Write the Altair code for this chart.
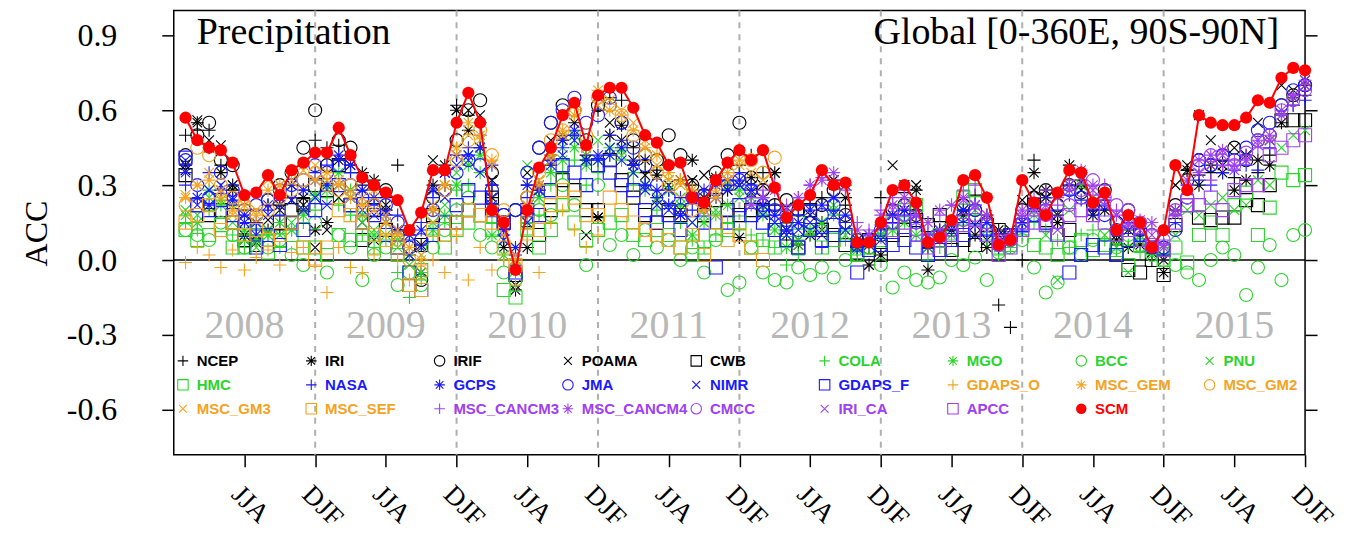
import altair as alt
import pandas as pd

# ---------------- data ----------------
tick_months = list(range(6, 97, 6))
djf_lines = [12, 24, 36, 48, 60, 72, 84]
year_labels = ["2008", "2009", "2010", "2011", "2012", "2013", "2014", "2015"]
year_pos = [6, 18, 30, 42, 54, 66, 78, 90]
y_ticks = [-0.6, -0.3, 0.0, 0.3, 0.6, 0.9]

models = ["NCEP", "IRI", "IRIF", "POAMA", "CWB", "COLA", "MGO", "BCC", "PNU",
          "HMC", "NASA", "GCPS", "JMA", "NIMR", "GDAPS_F", "GDAPS_O", "MSC_GEM", "MSC_GM2",
          "MSC_GM3", "MSC_SEF", "MSC_CANCM3", "MSC_CANCM4", "CMCC", "IRI_CA", "APCC", "SCM"]

BLACK, GREEN, BLUE, ORANGE, PURPLE, RED = "#000000", "#2bd42b", "#1a1aff", "#f5a31f", "#a040f0", "#ff0000"
colors = [BLACK] * 5 + [GREEN] * 5 + [BLUE] * 5 + [ORANGE] * 5 + [PURPLE] * 5 + [RED]

PLUS = "M-1,0L1,0M0,-1L0,1"
STAR = "M-1,0L1,0M0,-1L0,1M-0.72,-0.72L0.72,0.72M-0.72,0.72L0.72,-0.72"
XMARK = "M-0.75,-0.75L0.75,0.75M-0.75,0.75L0.75,-0.75"
shape_cycle = [PLUS, STAR, "circle", XMARK, "square"]
shapes = shape_cycle * 5 + ["circle"]

start = {m: 1 for m in models}
start.update({"MSC_CANCM3": 49, "MSC_CANCM4": 49, "CMCC": 61, "IRI_CA": 61, "APCC": 61})

SCM = [0.57, 0.48, 0.45, 0.44, 0.39, 0.26, 0.27, 0.34, 0.26, 0.36, 0.39, 0.43,
       0.43, 0.53, 0.42, 0.33, 0.30, 0.27, 0.24, 0.12, 0.19, 0.36, 0.36, 0.55,
       0.67, 0.55, 0.20, 0.15, -0.04, 0.20, 0.37, 0.45, 0.58, 0.63, 0.46, 0.66,
       0.69, 0.69, 0.61, 0.50, 0.47, 0.38, 0.39, 0.25, 0.23, 0.32, 0.39, 0.44,
       0.40, 0.44, 0.29, 0.17, 0.22, 0.26, 0.36, 0.30, 0.31, 0.07, 0.07, 0.15,
       0.28, 0.30, 0.23, 0.07, 0.09, 0.16, 0.32, 0.34, 0.25, 0.06, 0.08, 0.32,
       0.23, 0.18, 0.27, 0.36, 0.35, 0.23, 0.27, 0.12, 0.18, 0.15, 0.05, 0.12,
       0.38, 0.28, 0.58, 0.55, 0.54, 0.54, 0.57, 0.64, 0.63, 0.73, 0.77, 0.76]

NCEP = [0.50, 0.52, 0.52, 0.38, 0.30, 0.20, 0.10, 0.22, 0.12, 0.25, 0.20, 0.48,
        0.45, 0.46, 0.35, 0.30, 0.28, 0.25, 0.38, 0.10, 0.06, 0.20, 0.30, 0.62,
        0.58, 0.55, 0.30, 0.05, -0.02, 0.30, 0.28, 0.38, 0.50, 0.55, 0.42, 0.60,
        0.65, 0.64, 0.45, 0.35, 0.36, 0.38, 0.32, 0.30, 0.20, 0.25, 0.30, 0.38,
        0.42, 0.35, 0.22, 0.08, 0.18, 0.22, 0.25, 0.32, 0.22, 0.04, 0.05, 0.25,
        0.22, 0.27, 0.20, 0.05, 0.12, 0.15, 0.20, 0.26, 0.18, -0.18, -0.27, 0.00,
        0.40, 0.25, 0.18, 0.38, 0.30, 0.20, 0.24, 0.06, 0.12, 0.10, 0.00, 0.02,
        0.18, 0.36, 0.34, 0.35, 0.40, 0.33, 0.42, 0.35, 0.42, 0.58, 0.62, 0.66]
IRI = [0.38, 0.55, 0.45, 0.35, 0.28, 0.10, 0.08, 0.12, 0.22, 0.30, 0.25, 0.12,
       0.15, 0.40, 0.38, 0.35, 0.32, 0.20, 0.12, 0.02, -0.05, 0.30, 0.38, 0.60,
       0.52, 0.45, 0.25, 0.05, -0.12, 0.05, 0.30, 0.42, 0.48, 0.50, 0.40, 0.17,
       0.50, 0.54, 0.38, 0.40, 0.34, 0.28, 0.32, 0.40, 0.25, 0.33, 0.28, 0.09,
       0.33, 0.22, 0.35, 0.12, 0.06, 0.10, 0.15, 0.30, 0.25, 0.05, -0.02, 0.02,
       0.18, 0.20, 0.28, -0.04, 0.10, 0.12, 0.18, 0.10, 0.05, 0.12, 0.10, 0.15,
       0.35, 0.28, 0.15, 0.30, 0.32, 0.18, 0.20, 0.08, 0.05, 0.06, 0.03, -0.05,
       0.20, 0.36, 0.30, 0.38, 0.35, 0.28, 0.32, 0.40, 0.38, 0.55, 0.65, 0.70]
IRIF = [0.42, 0.50, 0.55, 0.40, 0.38, 0.15, 0.18, 0.24, 0.30, 0.35, 0.45, 0.60,
        0.38, 0.48, 0.45, 0.30, 0.22, 0.28, 0.10, 0.05, -0.08, 0.25, 0.28, 0.48,
        0.60, 0.64, 0.35, 0.18, 0.20, 0.25, 0.45, 0.55, 0.62, 0.60, 0.48, 0.62,
        0.62, 0.55, 0.48, 0.42, 0.40, 0.50, 0.42, 0.30, 0.26, 0.35, 0.42, 0.55,
        0.33, 0.28, 0.22, 0.24, 0.20, 0.15, 0.22, 0.28, 0.18, 0.08, 0.05, 0.10,
        0.20, 0.22, 0.18, 0.08, 0.10, 0.14, 0.22, 0.20, 0.15, 0.08, 0.10, 0.20,
        0.25, 0.28, 0.22, 0.30, 0.27, 0.22, 0.28, 0.15, 0.20, 0.12, 0.10, 0.05,
        0.22, 0.32, 0.40, 0.38, 0.42, 0.45, 0.40, 0.48, 0.50, 0.62, 0.66, 0.70]
POAMA = [0.36, 0.56, 0.48, 0.46, 0.30, 0.08, 0.07, 0.16, 0.20, 0.24, 0.22, 0.05,
         0.12, 0.25, 0.28, 0.15, 0.08, 0.22, 0.10, 0.12, 0.06, 0.40, 0.35, 0.60,
         0.60, 0.58, 0.32, 0.08, -0.10, 0.35, 0.28, 0.48, 0.50, 0.55, 0.10, 0.17,
         0.55, 0.48, 0.40, 0.34, 0.24, 0.30, 0.20, 0.32, 0.34, 0.32, 0.38, 0.30,
         0.27, 0.30, 0.35, 0.21, 0.08, 0.18, 0.12, 0.32, 0.30, 0.08, -0.02, 0.10,
         0.38, 0.30, 0.30, 0.05, 0.12, 0.12, 0.20, 0.14, 0.08, 0.10, 0.12, 0.24,
         0.28, 0.25, 0.18, 0.38, 0.28, 0.22, 0.25, 0.10, 0.12, 0.14, 0.03, 0.00,
         0.30, 0.38, 0.58, 0.48, 0.38, 0.45, 0.42, 0.55, 0.48, 0.70, 0.68, 0.72]
CWB = [0.34, 0.22, 0.18, 0.20, 0.15, 0.08, 0.06, 0.10, 0.15, 0.20, 0.22, 0.30,
       0.28, 0.38, 0.22, 0.08, 0.20, 0.12, 0.05, -0.10, 0.06, 0.18, 0.10, 0.15,
       0.20, 0.18, 0.25, 0.15, -0.06, 0.16, 0.10, 0.20, 0.32, 0.28, 0.20, 0.20,
       0.40, 0.32, 0.25, 0.18, 0.15, 0.20, 0.18, 0.10, 0.18, 0.24, 0.20, 0.18,
       0.20, 0.20, 0.12, 0.08, 0.05, 0.20, 0.12, 0.10, 0.06, 0.03, 0.08, 0.02,
       0.10, 0.12, 0.16, 0.14, 0.18, 0.04, 0.08, 0.06, 0.14, 0.12, 0.10, 0.14,
       0.22, 0.16, 0.10, 0.12, 0.08, 0.04, 0.06, 0.02, -0.04, -0.05, 0.00, -0.06,
       0.14, 0.22, 0.17, 0.16, 0.17, 0.17, 0.24, 0.22, 0.30, 0.56, 0.56, 0.56]
COLA = [0.15, 0.12, 0.20, 0.22, 0.10, 0.05, 0.08, 0.10, 0.05, 0.12, 0.15, 0.20,
        0.25, 0.22, 0.18, 0.10, 0.05, 0.08, -0.05, -0.15, -0.08, 0.10, 0.15, 0.28,
        0.30, 0.35, 0.15, 0.00, -0.05, 0.10, 0.18, 0.30, 0.35, 0.40, 0.30, 0.35,
        0.42, 0.40, 0.30, 0.28, 0.20, 0.22, 0.15, 0.08, 0.05, 0.10, 0.15, 0.12,
        0.10, 0.08, 0.05, -0.02, 0.02, 0.10, 0.12, 0.18, 0.08, 0.02, 0.05, 0.10,
        0.12, 0.15, 0.10, 0.00, 0.05, 0.08, 0.14, 0.18, 0.08, 0.02, 0.05, 0.10,
        0.15, 0.12, 0.08, 0.05, 0.10, 0.12, 0.08, 0.04, 0.06, 0.03, 0.02, 0.05]
MGO = [0.18, 0.15, 0.28, 0.24, 0.22, 0.12, 0.08, 0.10, 0.15, 0.12, 0.18, 0.26,
       0.30, 0.35, 0.28, 0.18, 0.10, 0.15, 0.08, 0.02, -0.05, 0.12, 0.18, 0.30,
       0.38, 0.42, 0.10, 0.02, 0.05, 0.15, 0.25, 0.35, 0.40, 0.45, 0.38, 0.40,
       0.45, 0.44, 0.35, 0.30, 0.25, 0.28, 0.22, 0.10, 0.15, 0.18, 0.22, 0.28,
       0.25, 0.18, 0.12, 0.05, 0.08, 0.12, 0.15, 0.20, 0.12, 0.04, 0.06, 0.10]
BCC = [0.12, 0.10, 0.08, 0.15, 0.10, 0.05, 0.12, 0.05, 0.08, 0.02, -0.02, 0.15,
       -0.05, 0.10, 0.05, -0.08, 0.02, 0.05, -0.10, -0.05, -0.10, 0.05, 0.12, 0.20,
       0.25, 0.10, 0.05, -0.05, -0.08, 0.15, 0.20, 0.18, 0.30, 0.22, -0.02, 0.30,
       0.06, 0.10, 0.02, 0.12, 0.05, 0.08, 0.00, 0.05, -0.05, 0.08, -0.12, -0.09,
       0.05, -0.05, -0.08, -0.09, -0.03, -0.06, -0.03, -0.07, 0.00, 0.02, 0.05, -0.02,
       -0.11, -0.05, -0.08, -0.09, -0.07, 0.00, -0.02, 0.01, -0.08, 0.03, 0.05, 0.08,
       -0.03, -0.13, -0.09, 0.05, 0.02, 0.08, 0.10, 0.05, 0.10, 0.06, 0.02, 0.00,
       -0.02, -0.05, -0.08, 0.00, 0.05, 0.02, -0.14, -0.03, 0.06, -0.08, 0.10, 0.12]
PNU = [0.20, 0.18, 0.25, 0.22, 0.15, 0.08, 0.05, 0.12, 0.10, 0.15, 0.20, 0.25,
       0.28, 0.30, 0.25, 0.15, 0.12, 0.10, 0.05, -0.02, 0.02, 0.15, 0.22, 0.35,
       0.42, 0.45, 0.20, 0.08, 0.00, 0.38, 0.25, 0.40, 0.45, 0.50, 0.42, 0.48,
       0.45, 0.42, 0.35, 0.30, 0.22, 0.32, 0.25, 0.15, 0.18, 0.20, 0.30, 0.25,
       0.22, 0.20, 0.15, 0.10, 0.06, 0.12, 0.15, 0.22, 0.10, 0.05, 0.08, 0.10,
       0.12, 0.15, 0.10, 0.05, 0.08, 0.10, 0.16, 0.20, 0.12, 0.05, 0.08, 0.15,
       0.18, 0.10, -0.08, 0.20, 0.30, 0.25, 0.10, 0.05, -0.05, 0.08, 0.02, 0.05,
       0.10, 0.20, 0.18, 0.22, 0.25, 0.20, 0.22, 0.32, 0.30, 0.45, 0.50, 0.52]
HMC = [0.12, 0.08, 0.10, 0.14, 0.05, 0.05, 0.10, 0.03, 0.08, 0.10, 0.05, 0.05,
       0.02, 0.10, 0.08, 0.10, 0.05, 0.08, 0.02, -0.05, -0.04, 0.10, 0.05, 0.12,
       0.15, 0.18, 0.12, -0.12, -0.15, 0.12, 0.05, 0.12, 0.22, 0.15, 0.08, 0.12,
       0.15, 0.18, 0.10, 0.08, 0.12, 0.10, 0.05, 0.02, 0.05, 0.10, 0.12, 0.15,
       0.05, 0.08, 0.05, 0.12, 0.15, 0.12, 0.05, 0.08, 0.10, 0.02, 0.05, 0.08,
       0.15, 0.20, 0.22, 0.08, 0.10, 0.12, 0.25, 0.28, 0.10, 0.05, 0.06, 0.12,
       0.06, 0.05, 0.02, 0.05, 0.08, 0.04, 0.06, 0.04, -0.02, 0.06, 0.05, 0.00,
       0.05, -0.01, 0.10, 0.15, 0.10, 0.22, 0.27, 0.10, 0.21, 0.35, 0.32, 0.34]
NASA = [0.30, 0.25, 0.35, 0.28, 0.22, 0.15, 0.12, 0.20, 0.18, 0.25, 0.28, 0.35,
        0.38, 0.40, 0.35, 0.25, 0.22, 0.20, 0.18, 0.08, 0.15, 0.25, 0.30, 0.42,
        0.45, 0.50, 0.30, 0.10, 0.02, 0.25, 0.30, 0.40, 0.45, 0.50, 0.40, 0.42,
        0.50, 0.48, 0.40, 0.30, 0.25, 0.28, 0.25, 0.20, 0.22, 0.25, 0.30, 0.35,
        0.30, 0.25, 0.20, 0.15, 0.18, 0.22, 0.05, 0.20, 0.15, 0.05, 0.08, 0.12,
        0.15, 0.18, 0.15, 0.08, 0.10, 0.12, 0.15, 0.14, 0.10, 0.05, 0.08, 0.12,
        0.22, 0.25, 0.20, 0.26, 0.24, 0.20, 0.22, 0.12, 0.15, 0.10, 0.05, 0.02,
        0.15, 0.30, 0.32, 0.30, 0.35, 0.36, 0.38, 0.36, 0.45, 0.58, 0.62, 0.64]
GCPS = [0.35, 0.25, 0.22, 0.28, 0.24, 0.18, 0.15, 0.22, 0.25, 0.30, 0.28, 0.32,
        0.30, 0.42, 0.38, 0.28, 0.25, 0.18, 0.12, 0.10, 0.12, 0.28, 0.35, 0.42,
        0.42, 0.45, 0.38, 0.12, 0.05, 0.30, 0.28, 0.40, 0.48, 0.52, 0.45, 0.40,
        0.42, 0.45, 0.38, 0.30, 0.28, 0.22, 0.18, 0.25, 0.28, 0.30, 0.32, 0.32,
        0.28, 0.22, 0.18, 0.12, 0.15, 0.20, 0.22, 0.25, 0.18, 0.08, 0.10, 0.14,
        0.18, 0.20, 0.18, 0.10, 0.12, 0.14, 0.20, 0.22, 0.15, 0.08, 0.10, 0.15]
JMA = [0.40, 0.30, 0.25, 0.35, 0.28, 0.20, 0.22, 0.24, 0.28, 0.30, 0.32, 0.38,
       0.35, 0.38, 0.30, 0.25, 0.20, 0.22, 0.15, 0.05, 0.08, 0.20, 0.28, 0.35,
       0.40, 0.38, 0.28, 0.18, 0.20, 0.35, 0.45, 0.55, 0.60, 0.65, 0.55, 0.58,
       0.65, 0.55, 0.45, 0.38, 0.30, 0.25, 0.20, 0.25, 0.22, 0.28, 0.30, 0.32,
       0.28, 0.22, 0.20, 0.16, 0.12, 0.15, 0.18, 0.22, 0.15, 0.06, 0.08, 0.12,
       0.15, 0.18, 0.15, 0.08, 0.10, 0.12, 0.18, 0.20, 0.12, 0.06, 0.08, 0.15,
       0.18, 0.20, 0.15, 0.28, 0.25, 0.20, 0.18, 0.12, 0.15, 0.10, 0.05, 0.05,
       0.12, 0.25, 0.40, 0.38, 0.42, 0.40, 0.45, 0.52, 0.55, 0.62, 0.68, 0.70]
NIMR = [0.40, 0.22, 0.28, 0.30, 0.25, 0.15, 0.10, 0.18, 0.22, 0.24, 0.20, 0.25,
        0.22, 0.30, 0.25, 0.20, 0.18, 0.15, 0.12, 0.02, 0.05, 0.20, 0.25, 0.38,
        0.40, 0.35, 0.22, 0.08, 0.02, 0.15, 0.28, 0.38, 0.42, 0.48, 0.40, 0.42,
        0.45, 0.40, 0.35, 0.28, 0.22, 0.20, 0.18, 0.15, 0.20, 0.25, 0.28, 0.30,
        0.22, 0.18, 0.15, 0.10, 0.12, 0.15, 0.10, 0.18, 0.12, 0.05, 0.06, 0.08]
GDAPS_F = [0.41, 0.22, 0.20, 0.24, 0.18, 0.12, 0.05, 0.10, 0.06, 0.15, 0.12, 0.20,
           0.25, 0.30, 0.22, 0.15, 0.18, 0.10, 0.05, -0.05, -0.12, 0.10, 0.15, 0.22,
           0.28, 0.25, 0.20, 0.15, -0.05, 0.20, 0.18, 0.28, 0.38, 0.35, 0.30, 0.38,
           0.35, 0.30, 0.28, 0.20, 0.15, 0.18, 0.12, 0.20, 0.15, -0.03, 0.15, 0.22,
           0.18, 0.15, 0.12, 0.08, 0.05, 0.12, 0.08, 0.14, 0.10, -0.05, 0.04, 0.06,
           0.06, 0.08, 0.05, 0.02, 0.04, 0.08, 0.10, 0.12, 0.10, 0.08, 0.10, 0.14,
           0.18, 0.15, 0.10, -0.05, 0.02, 0.06, 0.05, 0.02, 0.08, 0.10, 0.06, 0.04]
GDAPS_O = [-0.01, 0.05, 0.02, -0.03, 0.04, -0.04, 0.01, 0.04, -0.02, 0.03, 0.05, -0.02,
           -0.13, 0.05, -0.03, -0.05, 0.02, 0.10, 0.00, -0.08, -0.02, 0.00, -0.05, 0.10,
           -0.08, 0.05, -0.04, 0.00, -0.10, 0.08, -0.05, 0.15, 0.20, 0.12, 0.05, 0.10]
MSC_GEM = [0.25, 0.30, 0.32, 0.25, 0.20, 0.22, 0.18, 0.28, 0.30, 0.35, 0.38, 0.32,
           0.35, 0.30, 0.25, 0.22, 0.28, 0.15, 0.10, 0.05, 0.00, 0.20, 0.30, 0.45,
           0.55, 0.50, 0.40, 0.15, 0.00, 0.22, 0.30, 0.42, 0.52, 0.58, 0.45, 0.68,
           0.60, 0.58, 0.52, 0.45, 0.42, 0.35, 0.32, 0.28, 0.20, 0.25, 0.35, 0.40]
MSC_GM2 = [0.22, 0.45, 0.42, 0.30, 0.25, 0.22, 0.18, 0.20, 0.25, 0.28, 0.32, 0.35,
           0.30, 0.28, 0.30, 0.20, 0.22, 0.12, 0.08, 0.00, -0.05, 0.18, 0.28, 0.40,
           0.48, 0.52, 0.42, 0.20, -0.03, 0.25, 0.35, 0.48, 0.52, 0.60, 0.50, 0.65,
           0.62, 0.58, 0.50, 0.42, 0.35, 0.30, 0.28, 0.20, 0.22, 0.30, 0.35, 0.40,
           0.40, 0.35, 0.41]
MSC_GM3 = [0.26, 0.30, 0.35, 0.28, 0.18, 0.25, 0.20, 0.32, 0.30, 0.32, 0.36, 0.38,
           0.32, 0.32, 0.28, 0.25, 0.20, 0.18, 0.12, 0.05, 0.02, 0.22, 0.30, 0.42,
           0.50, 0.48, 0.38, 0.10, 0.02, 0.20, 0.32, 0.40, 0.50, 0.62, 0.46, 0.62,
           0.64, 0.60, 0.55, 0.48, 0.38, 0.32, 0.30, 0.26, 0.24, 0.28, 0.32, 0.38,
           0.35, 0.32]
MSC_SEF = [0.15, 0.18, 0.22, 0.12, 0.15, 0.10, 0.12, 0.08, 0.10, 0.15, 0.05, 0.00,
           0.05, 0.20, 0.18, 0.15, 0.10, 0.08, 0.05, -0.10, -0.12, 0.12, 0.10, 0.15,
           0.20, 0.18, 0.15, 0.05, -0.02, 0.15, 0.12, 0.22, 0.28, 0.25, 0.18, 0.18,
           0.25, 0.20, 0.15, 0.12, 0.10, 0.08, 0.05, 0.10, 0.02, 0.15, 0.08, 0.10,
           0.05, 0.00]
MSC_CANCM3 = [0.25, 0.28, 0.30, 0.22, 0.25, 0.30, 0.33, 0.32, 0.28, 0.15, 0.12, 0.20,
              0.25, 0.28, 0.22, 0.15, 0.18, 0.22, 0.28, 0.30, 0.25, 0.10, 0.10, 0.18,
              0.25, 0.28, 0.22, 0.32, 0.35, 0.26, 0.30, 0.20, 0.18, 0.15, 0.12, 0.08,
              0.18, 0.30, 0.35, 0.32, 0.38, 0.40, 0.42, 0.45, 0.48, 0.58, 0.62, 0.68]
MSC_CANCM4 = [0.22, 0.25, 0.28, 0.20, 0.25, 0.30, 0.32, 0.35, 0.30, 0.12, 0.10, 0.18,
              0.22, 0.25, 0.18, 0.15, 0.20, 0.22, 0.25, 0.22, 0.18, 0.08, 0.10, 0.20,
              0.20, 0.22, 0.25, 0.28, 0.36, 0.30, 0.25, 0.18, 0.14, 0.16, 0.15, 0.06,
              0.20, 0.32, 0.40, 0.42, 0.44, 0.38, 0.40, 0.48, 0.50, 0.60, 0.66, 0.72]
CMCC = [0.15, 0.18, 0.12, 0.08, 0.10, 0.12, 0.16, 0.18, 0.14, 0.06, 0.08, 0.15,
        0.20, 0.18, 0.15, 0.22, 0.28, 0.32, 0.25, 0.22, 0.20, 0.15, 0.10, 0.08,
        0.20, 0.25, 0.38, 0.42, 0.40, 0.38, 0.43, 0.48, 0.50, 0.60, 0.64, 0.68]
IRI_CA = [0.20, 0.22, 0.18, 0.10, 0.12, 0.15, 0.24, 0.22, 0.18, 0.08, 0.10, 0.18,
          0.20, 0.18, 0.12, 0.30, 0.32, 0.28, 0.22, 0.18, 0.15, 0.12, 0.10, 0.05,
          0.18, 0.28, 0.35, 0.38, 0.42, 0.36, 0.40, 0.46, 0.48, 0.58, 0.65, 0.70]
APCC = [0.12, 0.15, 0.10, 0.05, 0.08, 0.10, 0.14, 0.16, 0.10, 0.02, 0.05, 0.12,
        0.15, 0.14, 0.10, 0.18, 0.20, 0.18, 0.15, 0.10, 0.12, 0.08, 0.06, 0.04,
        0.15, 0.22, 0.22, 0.25, 0.20, 0.28, 0.30, 0.30, 0.42, 0.45, 0.48, 0.50]

series = {"NCEP": NCEP, "IRI": IRI, "IRIF": IRIF, "POAMA": POAMA, "CWB": CWB,
          "COLA": COLA, "MGO": MGO, "BCC": BCC, "PNU": PNU, "HMC": HMC,
          "NASA": NASA, "GCPS": GCPS, "JMA": JMA, "NIMR": NIMR, "GDAPS_F": GDAPS_F,
          "GDAPS_O": GDAPS_O, "MSC_GEM": MSC_GEM, "MSC_GM2": MSC_GM2, "MSC_GM3": MSC_GM3,
          "MSC_SEF": MSC_SEF, "MSC_CANCM3": MSC_CANCM3, "MSC_CANCM4": MSC_CANCM4,
          "CMCC": CMCC, "IRI_CA": IRI_CA, "APCC": APCC}

rows = []
for m in models[:-1]:
    for i, v in enumerate(series[m]):
        rows.append({"month": start[m] + i, "model": m, "acc": v})
df = pd.DataFrame(rows)
scm_df = pd.DataFrame({"month": list(range(1, 97)), "model": "SCM", "acc": SCM})

# legend table (3 rows x 9 columns inside the plot)
leg = pd.DataFrame({
    "model": models,
    "lx": [0.78 + (i % 9) * 10.89 for i in range(len(models))],
    "tx": [1.95 + (i % 9) * 10.89 for i in range(len(models))],
    "ly": [-0.404 - 0.096 * (i // 9) for i in range(len(models))],
})

# ---------------- chart ----------------
SERIF = "Liberation Serif"
xs = alt.Scale(domain=[0, 96], nice=False, zero=False)
ys = alt.Scale(domain=[-0.78, 1.0], nice=False, zero=False)
cscale = alt.Scale(domain=models, range=colors)
sscale = alt.Scale(domain=models, range=shapes)

x_axis = alt.Axis(values=tick_months, labelExpr="datum.value % 12 == 0 ? 'DJF' : 'JJA'",
                  labelAngle=45, labelAlign="left", labelBaseline="top",
                  labelFont=SERIF, labelFontSize=27, labelColor="black", labelPadding=14,
                  tickSize=12, tickColor="black", tickWidth=1.5, domain=False, grid=False,
                  title=None, labelOverlap=False, labelBound=False)
y_axis = alt.Axis(values=y_ticks,
                  labelExpr="datum.value < 0 ? '-' + format(-datum.value, '.1f') : format(datum.value, '.1f')",
                  labelFont=SERIF, labelFontSize=32, labelColor="black", labelPadding=45,
                  tickSize=12, tickColor="black", tickWidth=1.5, domain=False, grid=False,
                  title="ACC", titleFont=SERIF, titleFontSize=32, titleFontWeight="normal",
                  titleColor="black", titleX=-137, titleY=223, titleAngle=-90,
                  titleAlign="center", titleBaseline="middle", labelOverlap=False)
y_axis_right = alt.Axis(orient="right", values=y_ticks, labels=False, tickSize=12,
                        tickColor="black", tickWidth=1.5, domain=False, grid=False, title=None)

djf_df = pd.DataFrame({"month": djf_lines})
dashed = alt.Chart(djf_df).mark_rule(color="#b0b0b0", strokeWidth=2, strokeDash=[6, 6]).encode(
    x=alt.X("month:Q", scale=xs, axis=None))

zero = alt.Chart(pd.DataFrame({"v": [0.0]})).mark_rule(color="black", strokeWidth=1.5).encode(
    y=alt.Y("v:Q", scale=ys, axis=y_axis_right))

years_df = pd.DataFrame({"month": year_pos, "label": year_labels, "acc": [-0.312] * len(year_pos)})
years = alt.Chart(years_df).mark_text(font=SERIF, fontSize=40, color="#b8b8b8",
                                      baseline="alphabetic", align="center").encode(
    x=alt.X("month:Q", scale=xs, axis=None),
    y=alt.Y("acc:Q", scale=ys, axis=None),
    text="label:N")

pts = alt.Chart(df).mark_point(filled=False, strokeWidth=1.1, size=170, opacity=1).encode(
    x=alt.X("month:Q", scale=xs, axis=x_axis),
    y=alt.Y("acc:Q", scale=ys, axis=y_axis),
    color=alt.Color("model:N", scale=cscale, legend=None),
    shape=alt.Shape("model:N", scale=sscale, legend=None),
)

scm_line = alt.Chart(scm_df).mark_line(color=RED, strokeWidth=2).encode(
    x=alt.X("month:Q", scale=xs, axis=None),
    y=alt.Y("acc:Q", scale=ys, axis=None))
scm_pts = alt.Chart(scm_df).mark_circle(color=RED, size=150, opacity=1).encode(
    x=alt.X("month:Q", scale=xs, axis=None),
    y=alt.Y("acc:Q", scale=ys, axis=None))

leg_base = alt.Chart(leg)
leg_sym = leg_base.transform_filter("datum.model != 'SCM'").mark_point(
    filled=False, strokeWidth=1.1, size=110, opacity=1).encode(
    x=alt.X("lx:Q", scale=xs, axis=None),
    y=alt.Y("ly:Q", scale=ys, axis=None),
    color=alt.Color("model:N", scale=cscale, legend=None),
    shape=alt.Shape("model:N", scale=sscale, legend=None))
leg_scm = leg_base.transform_filter("datum.model == 'SCM'").mark_circle(
    color=RED, size=110, opacity=1).encode(
    x=alt.X("lx:Q", scale=xs, axis=None),
    y=alt.Y("ly:Q", scale=ys, axis=None))
leg_txt = leg_base.mark_text(font="Liberation Sans", fontWeight="bold", fontSize=15,
                             align="left", baseline="middle").encode(
    x=alt.X("tx:Q", scale=xs, axis=None),
    y=alt.Y("ly:Q", scale=ys, axis=None),
    text="model:N",
    color=alt.Color("model:N", scale=cscale, legend=None))

ann_left = alt.Chart(pd.DataFrame({"t": ["Precipitation"], "x": [1.95], "y": [0.866]})).mark_text(
    font=SERIF, fontSize=38, align="left", baseline="alphabetic", color="black").encode(
    x=alt.X("x:Q", scale=xs, axis=None), y=alt.Y("y:Q", scale=ys, axis=None), text="t:N")
ann_right = alt.Chart(pd.DataFrame({"t": ["Global [0-360E, 90S-90N]"], "x": [93.8], "y": [0.866]})).mark_text(
    font=SERIF, fontSize=38, align="right", baseline="alphabetic", color="black").encode(
    x=alt.X("x:Q", scale=xs, axis=None), y=alt.Y("y:Q", scale=ys, axis=None), text="t:N")

chart = alt.layer(
    dashed, zero, years, pts, scm_line, scm_pts, leg_sym, leg_scm, leg_txt, ann_left, ann_right
).resolve_axis(x="independent", y="independent").properties(
    width=1133, height=445,
    padding={"left": 166, "top": 2, "right": 40, "bottom": 80},
    autosize=alt.AutoSizeParams(type="none"),
).configure_view(stroke="black", strokeWidth=1.5)

chart.save("out.html", embed_options={"renderer": "svg", "actions": False})
